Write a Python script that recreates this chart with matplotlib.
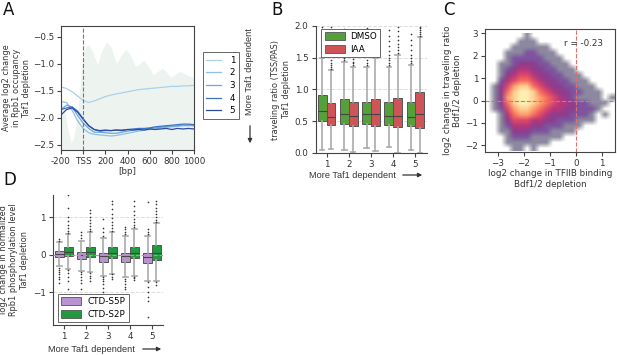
import numpy as np
import matplotlib
matplotlib.use("Agg")
import matplotlib.pyplot as plt
from matplotlib import font_manager

# ---------------- data ----------------
# panel A: average log2 change in Rpb1 occupancy, 5 quintiles
pos_bp = [-200, -150, -100, -50, 0, 50, 100, 150, 200, 250, 300, 350, 400,
          450, 500, 550, 600, 650, 700, 750, 800, 850, 900, 950, 1000]
occ_q1 = [-1.43, -1.46, -1.52, -1.60, -1.68, -1.72, -1.69, -1.65, -1.61, -1.58, -1.56, -1.54, -1.52,
          -1.50, -1.48, -1.47, -1.46, -1.45, -1.44, -1.43, -1.42, -1.42, -1.41, -1.41, -1.40]
occ_q2 = [-1.70, -1.72, -1.86, -2.06, -2.20, -2.28, -2.31, -2.32, -2.33, -2.34, -2.33, -2.31, -2.29,
          -2.27, -2.25, -2.23, -2.22, -2.21, -2.19, -2.18, -2.17, -2.16, -2.15, -2.15, -2.14]
occ_q3 = [-1.85, -1.77, -1.80, -1.96, -2.10, -2.20, -2.27, -2.27, -2.28, -2.29, -2.29, -2.27, -2.25,
          -2.23, -2.22, -2.21, -2.20, -2.19, -2.18, -2.16, -2.16, -2.15, -2.14, -2.14, -2.15]
occ_q4 = [-1.85, -1.82, -1.80, -1.88, -2.02, -2.15, -2.22, -2.25, -2.24, -2.24, -2.23, -2.23, -2.22,
          -2.21, -2.20, -2.20, -2.19, -2.17, -2.16, -2.15, -2.14, -2.13, -2.12, -2.12, -2.13]
occ_q5 = [-1.95, -1.85, -1.82, -1.90, -2.03, -2.15, -2.22, -2.24, -2.23, -2.24, -2.23, -2.24, -2.22,
          -2.23, -2.22, -2.23, -2.21, -2.22, -2.21, -2.20, -2.22, -2.20, -2.21, -2.20, -2.21]
# light background profile (upper edge of the shaded area)
bg_bp = [-200, -170, -140, -110, -90, -70, -50, -30, -10, 10, 30, 50, 80, 130, 170, 210, 250, 300,
         340, 385, 430, 470, 510, 547, 590, 630, 670, 712, 750, 790, 830, 871, 910, 950, 1000]
bg_top = [-1.65, -1.85, -2.2, -2.45, -2.4, -2.2, -1.9, -1.45, -1.0, -0.75, -0.66, -0.65, -0.75, -1.02,
          -0.75, -0.60, -0.68, -1.00, -0.85, -0.73, -0.85, -1.05, -1.0, -0.93, -1.05, -1.2, -1.15,
          -1.08, -1.15, -1.25, -1.2, -1.14, -1.18, -1.22, -1.26]

groups = ["1", "2", "3", "4", "5"]

# panel B: traveling ratio box stats (q1, med, q3, whislo, whishi)
tr_dmso = [(0.51, 0.66, 0.92, 0.05, 1.50), (0.46, 0.61, 0.85, 0.05, 1.43), (0.46, 0.61, 0.81, 0.08, 1.35),
           (0.44, 0.59, 0.81, 0.09, 1.35), (0.42, 0.56, 0.80, 0.04, 1.38)]
tr_iaa = [(0.44, 0.57, 0.78, 0.06, 1.30), (0.43, 0.59, 0.81, 0.01, 1.35), (0.43, 0.61, 0.85, 0.03, 1.50),
          (0.41, 0.59, 0.86, 0.00, 1.55), (0.40, 0.62, 0.96, 0.00, 1.82)]
tr_dmso_fl = [[1.53, 1.57, 1.62, 1.66, 1.70, 1.75, 1.80, 1.86, 1.92, 1.98],
              [1.46, 1.50, 1.55, 1.60, 1.66, 1.72, 1.79, 1.88, 1.96],
              [1.38, 1.42, 1.47, 1.52, 1.58, 1.65, 1.74, 1.85, 1.97],
              [1.38, 1.42, 1.46, 1.50, 1.55, 1.61, 1.68, 1.76, 1.85, 1.93],
              [1.41, 1.45, 1.50, 1.55, 1.62, 1.70, 1.78, 1.87]]
tr_iaa_fl = [[1.32, 1.35, 1.38, 1.42, 1.47, 1.52, 1.58, 1.64, 1.72, 1.80, 1.90, 1.99],
             [1.38, 1.41, 1.44, 1.48, 1.53, 1.58, 1.65, 1.73, 1.82, 1.92],
             [1.54, 1.60, 1.68, 1.78, 1.90],
             [1.58, 1.62, 1.67, 1.72, 1.78, 1.85, 1.92, 1.99],
             [1.85, 1.88, 1.91, 1.94, 1.97, 1.99]]

# panel C: scatter density levels (0 empty .. 9 densest), rows top (y=3) to bottom (y=-2.25),
# columns x=-3.5..1.5 in 0.25 steps
dens_rows = [
    "00000010000000000000",
    "00000111000000000000",
    "00001111110000000000",
    "00011122111000000000",
    "00012222211100000000",
    "00112333221110000000",
    "00123443322111000000",
    "00134554332211100000",
    "00245665433221110000",
    "01357886543322111000",
    "01368998654332211100",
    "01378998765432111101",
    "01368998765443221110",
    "01257887654433222100",
    "00146776543332221010",
    "00135554433222111000",
    "00124443322211100000",
    "00113332221111000000",
    "00012221111100000000",
    "00011111110000000000",
    "00001101000000000000",
]
# colour (position on magma) and opacity for each density level
level_cmap = [0.0, 0.12, 0.24, 0.38, 0.5, 0.6, 0.7, 0.8, 0.9, 0.97]
level_alpha = [0.0, 0.5, 0.72, 0.9, 1.0, 1.0, 1.0, 1.0, 1.0, 1.0]
r_value = -0.23

# panel D: phosphorylation box stats (q1, med, q3, whislo, whishi)
ph_s5p = [(-0.05, 0.02, 0.10, -0.30, 0.35), (-0.12, -0.01, 0.07, -0.42, 0.38), (-0.18, -0.03, 0.05, -0.55, 0.45),
          (-0.20, -0.03, 0.05, -0.60, 0.50), (-0.22, -0.05, 0.05, -0.70, 0.50)]
ph_s2p = [(-0.02, 0.08, 0.22, -0.38, 0.55), (-0.05, 0.08, 0.22, -0.45, 0.62), (-0.08, 0.04, 0.20, -0.50, 0.62),
          (-0.08, 0.05, 0.22, -0.55, 0.70), (-0.13, 0.05, 0.27, -0.70, 0.85)]
ph_s5p_fl = [[0.38, 0.42, -0.34, -0.40, -0.46, -0.52, -0.58, -0.65, -0.75],
             [0.45, 0.52, 0.62, -0.46, -0.52, -0.58, -0.66, -0.75, -0.92],
             [0.50, 0.60, 0.72, 0.95, -0.58, -0.64, -0.70, -0.78, -0.88, -1.0],
             [0.55, 0.62, 0.68, 0.75, -0.63, -0.70, -0.78, -0.85, -0.92],
             [0.55, 0.62, 0.70, 1.40, -0.72, -0.85, -1.0, -1.12, -1.22, -1.65]]
ph_s2p_fl = [[0.58, 0.64, 0.72, 0.80, 0.90, 1.02, 1.25, 1.60, -0.40, -0.48, -0.58, -0.70, -0.90],
             [0.65, 0.70, 0.76, 0.84, 0.92, 1.02, 1.12, 1.20, -0.48, -0.55, -0.62, -0.70],
             [0.65, 0.72, 0.80, 0.88, 0.98, 1.10, 1.22, 1.35, 1.45, -0.52, -0.58, -0.65],
             [0.74, 0.80, 0.88, 0.96, 1.06, 1.18, 1.30, 1.45, -0.58, -0.62, -0.66],
             [0.88, 0.94, 1.00, 1.08, 1.16, 1.25, 1.35, 1.45, -0.73, -0.80]]

# ---------------- style ----------------
names = {f.name for f in font_manager.fontManager.ttflist}
if "DejaVu Sans Condensed" in names:
    plt.rcParams["font.family"] = ["DejaVu Sans Condensed", "DejaVu Sans"]
    LAB, TICK = 6.4, 7.0
else:
    plt.rcParams["font.family"] = ["DejaVu Sans"]
    LAB, TICK = 5.9, 6.3
plt.rcParams["font.size"] = LAB
plt.rcParams["xtick.labelsize"] = TICK
plt.rcParams["ytick.labelsize"] = TICK
plt.rcParams["axes.edgecolor"] = "#444444"
plt.rcParams["xtick.color"] = "#444444"
plt.rcParams["ytick.color"] = "#444444"
plt.rcParams["xtick.labelcolor"] = "#333333"
plt.rcParams["ytick.labelcolor"] = "#333333"
plt.rcParams["axes.linewidth"] = 0.8
plt.rcParams["xtick.major.size"] = 3
plt.rcParams["ytick.major.size"] = 3
plt.rcParams["xtick.major.pad"] = 2
plt.rcParams["ytick.major.pad"] = 2
TXT = "#333333"

W, H = 617, 355
fig = plt.figure(figsize=(W / 100, H / 100), dpi=100)


def px_axes(left, top, right, bottom):
    return fig.add_axes([left / W, 1 - bottom / H, (right - left) / W, (bottom - top) / H])


def box_stats(stats, fliers):
    out = []
    for (q1, med, q3, lo, hi), fl in zip(stats, fliers):
        out.append(dict(q1=q1, med=med, q3=q3, whislo=lo, whishi=hi, fliers=fl))
    return out


def draw_boxes(ax, stats, positions, color):
    ax.bxp(stats, positions=positions, widths=0.4, patch_artist=True, showfliers=True,
           boxprops=dict(facecolor=color, edgecolor="#555555", linewidth=0.7),
           medianprops=dict(color="#444444", linewidth=0.8),
           whiskerprops=dict(color="#aaaaaa", linewidth=1.2),
           capprops=dict(color="#aaaaaa", linewidth=1.2),
           flierprops=dict(marker="o", markersize=1.2, markerfacecolor="#333333",
                           markeredgecolor="none"))


def arrow_label(x_text, y_text, x0, x1, y_arrow):
    fig.text(x_text / W, 1 - y_text / H, "More Taf1 dependent", family="Liberation Sans",
             fontsize=6.6, color=TXT, va="center")
    fig.add_artist(matplotlib.patches.FancyArrowPatch(
        (x0 / W, 1 - y_arrow / H), (x1 / W, 1 - y_arrow / H), transform=fig.transFigure,
        arrowstyle="-|>", mutation_scale=6, color="#333333", lw=0.9))


def small_legend(ax, handles, labels, **kw):
    leg = ax.legend(handles, labels, frameon=True, fancybox=False, edgecolor="#666666",
                    fontsize=TICK, borderaxespad=0.3, **kw)
    leg.get_frame().set_linewidth(0.7)
    leg.get_frame().set_alpha(1)
    return leg


# ---------------- panel A ----------------
axA = px_axes(61, 26, 194, 150)
axA.fill_between(bg_bp, -3, bg_top, color="#edf3ef", lw=0)
blues = ["#a9d2ea", "#8cc0e6", "#6ca6dc", "#3e72c6", "#2b4c9e"]
linesA = []
for vals, c in zip([occ_q1, occ_q2, occ_q3, occ_q4, occ_q5], blues):
    ln, = axA.plot(pos_bp, vals, color=c, lw=0.9)
    linesA.append(ln)
axA.axvline(0, color="#777777", ls="--", lw=0.8)
axA.set_xlim(-200, 1000)
axA.set_ylim(-2.6, -0.3)
axA.set_xticks([-200, 0, 200, 400, 600, 800, 1000])
axA.set_xticklabels(["-200", "TSS", "200", "400", "600", "800", "1000"])
axA.set_yticks([-2.5, -2.0, -1.5, -1.0, -0.5])
axA.set_xlabel("[bp]", color=TXT, labelpad=1, fontsize=TICK)
axA.set_ylabel("Average log2 change\nin Rpb1 occupancy\nTaf1 depletion", color=TXT, labelpad=1)
small_legend(axA, linesA, groups, loc="upper left", bbox_to_anchor=(1.045, 0.81),
             handlelength=1.7, labelspacing=0.42, borderpad=0.4, handletextpad=1.0)
fig.text(250 / W, 1 - 72 / H, "More Taf1 dependent", family="Liberation Sans", fontsize=6.6,
         color=TXT, rotation=90, ha="center", va="center")
fig.add_artist(matplotlib.patches.FancyArrowPatch(
    (250 / W, 1 - 123 / H), (250 / W, 1 - 146 / H), transform=fig.transFigure,
    arrowstyle="-|>", mutation_scale=6, color="#333333", lw=0.9))

# ---------------- panel B ----------------
axB = px_axes(315.5, 26, 426.5, 153)
xs = np.arange(len(groups))
axB.yaxis.grid(True, ls="--", color="#dddddd", lw=0.7)
axB.set_axisbelow(True)
draw_boxes(axB, box_stats(tr_dmso, tr_dmso_fl), xs - 0.2, "#54a03a")
draw_boxes(axB, box_stats(tr_iaa, tr_iaa_fl), xs + 0.2, "#cf5457")
axB.set_xlim(-0.5, 4.5)
axB.set_ylim(0, 2.0)
axB.set_xticks(xs)
axB.set_xticklabels(groups)
axB.set_yticks([0.0, 0.5, 1.0, 1.5, 2.0])
axB.spines["top"].set_visible(False)
axB.spines["right"].set_visible(False)
axB.set_ylabel("traveling ratio (TSS/PAS)\nTaf1 depletion", color=TXT, labelpad=3)
hB = [matplotlib.patches.Patch(facecolor="#54a03a", edgecolor="#555555", lw=0.6),
      matplotlib.patches.Patch(facecolor="#cf5457", edgecolor="#555555", lw=0.6)]
small_legend(axB, hB, ["DMSO", "IAA"], loc="upper left", bbox_to_anchor=(0.03, 1.0),
             handlelength=2.3, handleheight=1.0, borderpad=0.35, labelspacing=0.45,
             handletextpad=0.6)
arrow_label(309, 175, 400, 425, 175)

# ---------------- panel C ----------------
axC = px_axes(485, 29, 615, 152)
lev = np.array([[int(ch) for ch in row] for row in dens_rows])
rgba = plt.get_cmap("magma")(np.array(level_cmap)[lev])
rgba[..., 3] = np.array(level_alpha)[lev]
axC.imshow(rgba, extent=(-3.5, 1.5, -2.25, 3.0), origin="upper", aspect="auto",
           interpolation="bilinear")
axC.axvline(0, color="#e07070", ls="--", lw=0.8)
axC.axhline(0, color="#e07070", ls="--", lw=0.8)
axC.set_xlim(-3.5, 1.5)
axC.set_ylim(-2.3, 3.2)
axC.set_xticks([-3, -2, -1, 0, 1])
axC.set_yticks([-2, -1, 0, 1, 2, 3])
axC.text(-0.45, 2.55, "r = %.2f" % r_value, fontsize=TICK, color=TXT, va="center")
axC.set_xlabel("log2 change in TFIIB binding\nBdf1/2 depletion", color=TXT, labelpad=1,
               fontsize=LAB + 0.4)
axC.set_ylabel("log2 change in traveling ratio\nBdf1/2 depletion", color=TXT, labelpad=2,
               fontsize=LAB + 0.4)

# ---------------- panel D ----------------
axD = px_axes(52.7, 195, 163, 325)
axD.yaxis.grid(True, ls="--", color="#dddddd", lw=0.7)
axD.set_axisbelow(True)
draw_boxes(axD, box_stats(ph_s5p, ph_s5p_fl), xs - 0.2, "#b993d1")
draw_boxes(axD, box_stats(ph_s2p, ph_s2p_fl), xs + 0.2, "#1f9a3e")
axD.axhline(0, color="#e88080", ls="--", lw=0.8, zorder=5)
axD.set_xlim(-0.5, 4.5)
axD.set_ylim(-1.87, 1.6)
axD.set_xticks(xs)
axD.set_xticklabels(groups)
axD.set_yticks([-1, 0, 1])
axD.spines["top"].set_visible(False)
axD.spines["right"].set_visible(False)
axD.set_ylabel("log2 change in normalized\nRpb1 phosphorylation level\nTaf1 depletion",
               color=TXT, labelpad=3)
hD = [matplotlib.patches.Patch(facecolor="#b993d1", edgecolor="#555555", lw=0.6),
      matplotlib.patches.Patch(facecolor="#1f9a3e", edgecolor="#555555", lw=0.6)]
small_legend(axD, hD, ["CTD-S5P", "CTD-S2P"], loc="lower left", bbox_to_anchor=(0.02, 0.0),
             handlelength=2.3, handleheight=1.0, borderpad=0.35, labelspacing=0.45,
             handletextpad=0.8)
arrow_label(48, 349, 140, 164, 349)

# panel letters
for lab, x, y in [("A", 3, 10), ("B", 271, 10), ("C", 443, 10), ("D", 3, 180)]:
    fig.text(x / W, 1 - y / H, lab, fontsize=12, color="#111111", va="center")

fig.savefig("out.png", dpi=100)
